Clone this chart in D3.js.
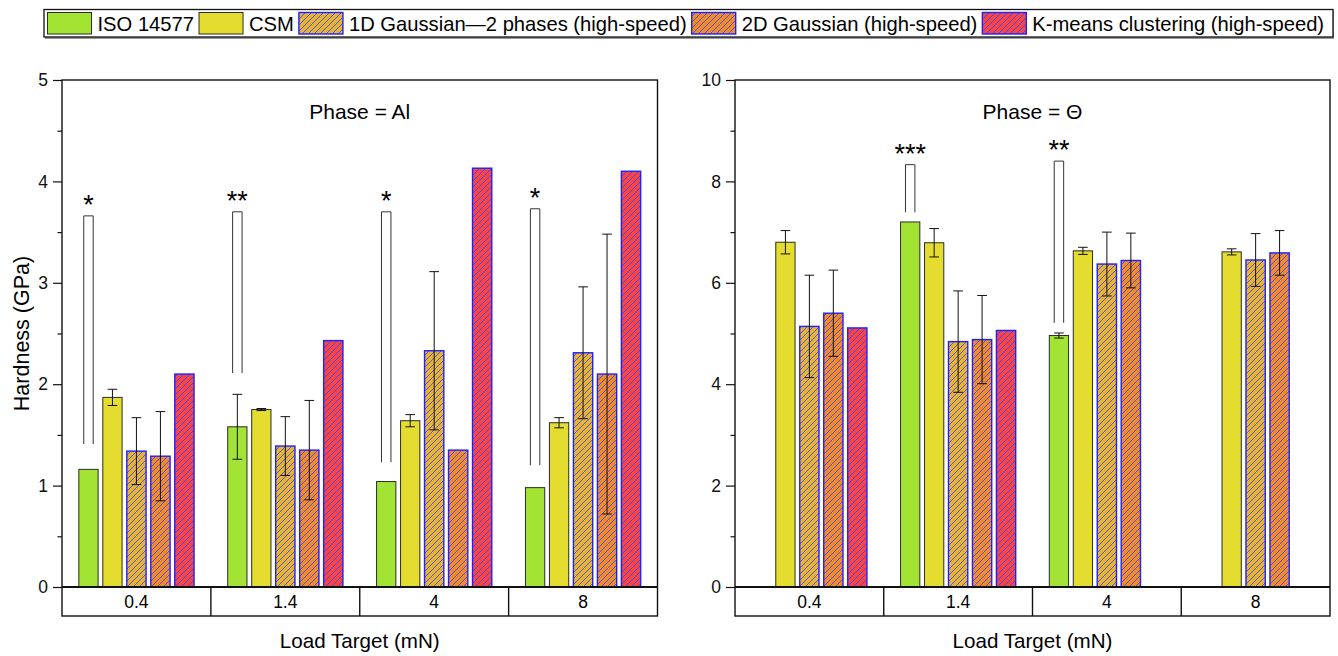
<!DOCTYPE html>
<html>
<head>
<meta charset="utf-8">
<script src="https://cdn.jsdelivr.net/npm/d3@7/dist/d3.min.js"></script>
<style>
  html, body { margin: 0; padding: 0; background: #fff; }
  svg { display: block; font-family: "Liberation Sans", Arial, sans-serif; }
</style>
</head>
<body>
<svg id="chart" width="1338" height="656"></svg>
<script>
// Load targets (categories)
const loads = ["0.4", "1.4", "4", "8"];

// Series
const seriesNames = [
  "ISO 14577",
  "CSM",
  "1D Gaussian\u20142 phases (high-speed)",
  "2D Gaussian (high-speed)",
  "K-means clustering (high-speed)"
];
const seriesColors = ["#a3e334", "#e5dc30", "#e8b235", "#f08a2c", "#f84444"];
const seriesHatched = [false, false, true, true, true];

// Phase = Al : hardness (GPa) and standard deviation
const alIso = [1.16, 1.58, 1.04, 0.98];
const alIsoErr = [null, 0.32, null, null];
const alCsm = [1.87, 1.75, 1.64, 1.62];
const alCsmErr = [0.08, 0.01, 0.06, 0.05];
const al1d = [1.34, 1.39, 2.33, 2.31];
const al1dErr = [0.33, 0.29, 0.78, 0.65];
const al2d = [1.29, 1.35, 1.35, 2.10];
const al2dErr = [0.44, 0.49, null, 1.38];
const alKm = [2.10, 2.43, 4.13, 4.10];
const alKmErr = [null, null, null, null];
const alSigLow = [1.41, 2.11, 1.23, 1.20];
const alSigHigh = [3.66, 3.70, 3.70, 3.73];
const alSigMark = ["*", "**", "*", "*"];

// Phase = Θ : hardness (GPa) and standard deviation
const thIso = [null, 7.20, 4.96, null];
const thIsoErr = [null, null, 0.05, null];
const thCsm = [6.80, 6.79, 6.63, 6.61];
const thCsmErr = [0.23, 0.28, 0.07, 0.06];
const th1d = [5.14, 4.84, 6.37, 6.45];
const th1dErr = [1.01, 1.00, 0.63, 0.52];
const th2d = [5.40, 4.88, 6.44, 6.59];
const th2dErr = [0.85, 0.87, 0.54, 0.44];
const thKm = [5.11, 5.06, null, null];
const thKmErr = [null, null, null, null];
const thSigLow = [null, 7.39, 5.21, null];
const thSigHigh = [null, 8.33, 8.40, null];
const thSigMark = ["", "***", "**", ""];

// Axis ticks
const alTicks = [0, 1, 2, 3, 4, 5];
const alMinor = [0.5, 1.5, 2.5, 3.5, 4.5];
const thTicks = [0, 2, 4, 6, 8, 10];
const thMinor = [1, 3, 5, 7, 9];

const svg = d3.select("#chart");
const defs = svg.append("defs");

// Diagonal hatch patterns (blue lines over the series colour)
seriesColors.forEach((c, i) => {
  if (!seriesHatched[i]) return;
  const p = defs.append("pattern")
    .attr("id", "hatch" + i)
    .attr("patternUnits", "userSpaceOnUse")
    .attr("width", 6).attr("height", 6);
  p.append("rect").attr("width", 6).attr("height", 6).attr("fill", c);
  p.append("path")
    .attr("d", "M-1,7 L7,-1 M-1,1 L1,-1 M5,7 L7,5")
    .attr("stroke", "#2848ff").attr("stroke-width", 0.8);
});

function fillFor(i) { return seriesHatched[i] ? `url(#hatch${i})` : seriesColors[i]; }

function drawPanel(opt) {
  const { x0, x1r, yTop, yBase, tableBottom, domainMax, ticks, minor, values, errors,
          sigLow, sigHigh, sigMark, title, yTitle } = opt;
  const g = svg.append("g");

  const x = d3.scaleBand().domain(loads).range([x0, x1r]).padding(0);
  const groupSpan = x.bandwidth() * 0.774;
  const xs = d3.scaleBand().domain(d3.range(seriesNames.length))
    .range([(x.bandwidth() - groupSpan) / 2, (x.bandwidth() + groupSpan) / 2])
    .paddingInner(0.196).paddingOuter(0);
  const y = d3.scaleLinear().domain([0, domainMax]).range([yBase, yTop]);

  // Bars
  values.forEach((vals, si) => {
    g.append("g").selectAll("rect")
      .data(loads.map((l, k) => ({ l, v: vals[k] })).filter(d => d.v != null))
      .join("rect")
      .attr("x", d => x(d.l) + xs(si))
      .attr("y", d => y(d.v))
      .attr("width", xs.bandwidth())
      .attr("height", d => y(0) - y(d.v))
      .attr("fill", fillFor(si))
      .attr("stroke", seriesHatched[si] ? "#2020ff" : "#2b2b2b")
      .attr("stroke-width", seriesHatched[si] ? 1.4 : 1);
  });

  // Error bars
  const cap = xs.bandwidth() * 0.25;
  values.forEach((vals, si) => {
    const errs = errors[si];
    const data = loads.map((l, k) => ({ l, v: vals[k], e: errs[k] }))
      .filter(d => d.v != null && d.e != null);
    const eg = g.append("g").attr("stroke", "#111").attr("stroke-width", 1).attr("fill", "none");
    data.forEach(d => {
      const cx = x(d.l) + xs(si) + xs.bandwidth() / 2;
      const top = y(d.v + d.e), bot = y(d.v - d.e);
      eg.append("path").attr("d",
        `M${cx},${top}V${bot}M${cx - cap},${top}H${cx + cap}M${cx - cap},${bot}H${cx + cap}`);
    });
  });

  // Significance brackets above the ISO 14577 bar
  loads.forEach((l, k) => {
    if (sigHigh[k] == null) return;
    const cx = x(l) + xs(0) + xs.bandwidth() / 2;
    const hw = xs.bandwidth() * 0.245;
    g.append("path")
      .attr("d", `M${cx - hw},${y(sigLow[k])}V${y(sigHigh[k])}H${cx + hw}V${y(sigLow[k])}`)
      .attr("fill", "none").attr("stroke", "#333").attr("stroke-width", 1);
    g.append("text")
      .attr("x", cx).attr("y", y(sigHigh[k]) - 2)
      .attr("text-anchor", "middle")
      .attr("font-size", 27)
      .text(sigMark[k]);
  });

  // Frame, axis and category table
  const fr = g.append("g").attr("fill", "none").attr("stroke", "#111");
  fr.append("rect").attr("x", x0).attr("y", yTop).attr("width", x1r - x0)
    .attr("height", tableBottom - yTop).attr("stroke-width", 1.4);
  fr.append("line").attr("x1", x0).attr("x2", x1r).attr("y1", yBase).attr("y2", yBase)
    .attr("stroke-width", 2);
  loads.slice(1).forEach(l => {
    fr.append("line").attr("x1", x(l)).attr("x2", x(l))
      .attr("y1", yBase).attr("y2", tableBottom).attr("stroke-width", 1.4);
  });
  g.append("g").selectAll("text").data(loads).join("text")
    .attr("x", d => x(d) + x.bandwidth() / 2)
    .attr("y", (yBase + tableBottom) / 2 + 6)
    .attr("text-anchor", "middle").attr("font-size", 17.5)
    .text(d => d);

  // Y axis ticks
  const yAxis = d3.axisLeft(y).tickValues(ticks).tickSize(9).tickPadding(5)
    .tickFormat(d3.format("d"));
  const ya = g.append("g").attr("transform", `translate(${x0},0)`).call(yAxis);
  ya.select(".domain").remove();
  ya.selectAll("line").attr("stroke", "#111").attr("stroke-width", 1.2);
  ya.selectAll("text").attr("font-size", 17.5).attr("fill", "#111")
    .attr("font-family", "Liberation Sans, Arial, sans-serif");
  const ym = d3.axisLeft(y).tickValues(minor).tickSize(4.5).tickFormat("");
  const ymg = g.append("g").attr("transform", `translate(${x0},0)`).call(ym);
  ymg.select(".domain").remove();
  ymg.selectAll("line").attr("stroke", "#111").attr("stroke-width", 1.2);

  // Panel title
  g.append("text").attr("x", (x0 + x1r) / 2).attr("y", 119)
    .attr("text-anchor", "middle").attr("font-size", 21).text(title);

  // X axis title
  g.append("text").attr("x", (x0 + x1r) / 2).attr("y", 648)
    .attr("text-anchor", "middle").attr("font-size", 20.6).text("Load Target (mN)");

  if (yTitle) {
    g.append("text")
      .attr("transform", `translate(29,${(yTop + yBase) / 2}) rotate(-90)`)
      .attr("text-anchor", "middle").attr("font-size", 21.5).text(yTitle);
  }
}

drawPanel({
  x0: 62, x1r: 657.5, yTop: 80, yBase: 587, tableBottom: 616, domainMax: 5,
  ticks: alTicks, minor: alMinor,
  values: [alIso, alCsm, al1d, al2d, alKm],
  errors: [alIsoErr, alCsmErr, al1dErr, al2dErr, alKmErr],
  sigLow: alSigLow, sigHigh: alSigHigh, sigMark: alSigMark,
  title: "Phase = Al", yTitle: "Hardness (GPa)"
});

drawPanel({
  x0: 735, x1r: 1330, yTop: 80, yBase: 587, tableBottom: 616, domainMax: 10,
  ticks: thTicks, minor: thMinor,
  values: [thIso, thCsm, th1d, th2d, thKm],
  errors: [thIsoErr, thCsmErr, th1dErr, th2dErr, thKmErr],
  sigLow: thSigLow, sigHigh: thSigHigh, sigMark: thSigMark,
  title: "Phase = \u0398", yTitle: null
});

// Legend
const lg = svg.append("g");
lg.append("rect").attr("x", 45).attr("y", 11).attr("width", 1289).attr("height", 28)
  .attr("fill", "#999");
lg.append("rect").attr("x", 44).attr("y", 9.5).attr("width", 1289).attr("height", 27.5)
  .attr("fill", "#fff").attr("stroke", "#111").attr("stroke-width", 1.3);
let lx = 47.5;
seriesNames.forEach((name, i) => {
  lg.append("rect").attr("x", lx).attr("y", 12.5).attr("width", 44).attr("height", 21.5)
    .attr("fill", fillFor(i))
    .attr("stroke", seriesHatched[i] ? "#2020ff" : "#2b2b2b")
    .attr("stroke-width", seriesHatched[i] ? 1.4 : 1);
  const t = lg.append("text").attr("x", lx + 50).attr("y", 30.5)
    .attr("font-size", 20.2).text(name);
  lx = lx + 50 + t.node().getComputedTextLength() + 5;
});
</script>
</body>
</html>
